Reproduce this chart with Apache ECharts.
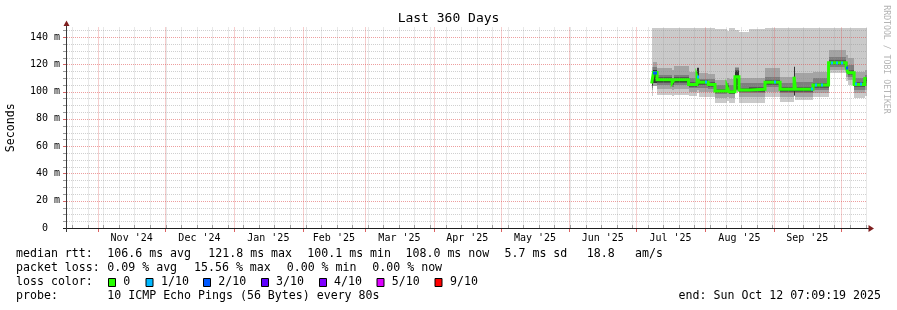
<!DOCTYPE html>
<html><head><meta charset="utf-8">
<script src="https://cdn.jsdelivr.net/npm/echarts@6/dist/echarts.min.js"></script>
<style>html,body{margin:0;padding:0;background:#fff}#c{width:897px;height:310px}</style>
</head><body><div id="c"></div>
<script>
// ---------- axis / tick data ----------
const monthLabels = ["Nov '24","Dec '24","Jan '25","Feb '25","Mar '25","Apr '25","May '25","Jun '25","Jul '25","Aug '25","Sep '25"];
// month starts, in days after the graph start (Nov 1 ... Oct 1)
const monthStartDays = [14.1,44.1,75.1,106.1,134.1,165.1,195.1,226.1,256.1,287.1,318.1,348.1];
const yTickValues = [0,20,40,60,80,100,120,140];
const yTickLabels = ['0  ','20 m','40 m','60 m','80 m','100 m','120 m','140 m'];
const firstWeekDay = 2.35;

// ---------- series data (days after start, values in ms) ----------
const segDays = [263.1,263.9,265.5,272.3,273.2,279.7,283.5,284.4,288.5,291.6,297.0,297.9,300.6,302.4,306.9,314.1,320.9,327.2,327.8,335.7,342.7,350.6,351.5,354.2,359.0,359.8];
const median  = [106,114,108.7,106.5,108.7,105.2,111,106.8,105.2,100.4,103.6,99.9,110.9,101.2,101.7,106.8,101.7,110.9,101.7,104.8,121.2,117.5,113.9,105.3,109.7,109.7];
const smoke1Lo = [97,105,97.5,97,97.5,97,99,96,96,91.4,93,91.5,99.9,91.4,91.4,96.2,92.3,97,93.8,96.2,113.4,108,104.8,95,97,97];
const smoke1Hi = [147,147,147,147,147,147,147,147,147,146,144.5,146.5,145,143.5,146,147,147,147,147,147,147,147,147,147,147,147];
const smoke2Lo = [101,104,102,101,102,100,101,99.9,99.5,95,96,95,100.5,96.2,96.2,99.9,96.2,97,96.2,98.7,115.8,111,108.5,98.7,101,101];
const smoke2Hi = [118,122,117.5,116,118.5,114.6,118,114,113,108.5,110,109,118.2,109.7,110,117,111,118.5,113.4,114.6,130.5,127,124.4,114.6,116,116];
const smoke3Lo = [103,107,104.8,103.5,104.8,102.8,103,102.3,102,98,99,98,101,98.7,98.7,103.6,98.7,97,98.7,101.2,118.2,114,110.9,101.2,104,104];
const smoke3Hi = [112,118,112,110,112,110.2,117,109.5,109,104.8,106.5,105,117,106,106,110.9,106,118,107.3,109.7,125.6,122,119.5,109.7,112,112];
const smoke4Lo = [104,108,106.5,104.5,106.5,103.5,104,104.5,103.3,98.8,101,98.5,101.5,99.5,99.8,104.8,99.8,97.2,99.8,103,119.5,115.5,112.3,103.3,106,106];
const smoke4Hi = [109,116,110.5,108,110.5,107,117,108.3,107,102.2,105,101.5,116,103,103.3,108.3,103.3,118,103.3,106.5,123,119.5,115.5,107,111,111];
const smoke5Lo = [104.5,106,107.3,105.3,107.3,104.2,105,105.5,104,99.4,102.5,99.2,102,100.3,100.8,105.8,100.8,97.5,100.8,104,120.3,116.5,113.2,104.3,107.5,107.5];
const smoke5Hi = [107,116,109.2,107,109.2,105.8,117,107.2,105.8,101,104,100.5,115,101.8,102.3,107.5,102.3,118,102.3,105.5,121.8,118,114.5,105.8,110.3,110.3];

// packet loss on the median line (day ranges and loss level)
const lossStart = [263.9,283.5,287.2,318.3,334.8,336.8,339.2,343.8,346.2,348.4,350.6,354.5,356.8];
const lossEnd   = [265.5,284.4,287.9,318.9,335.4,337.4,339.8,344.4,346.8,349.0,351.5,355.1,357.4];
const lossLevel = [2,1,1,1,1,1,1,1,1,1,2,1,1];

// legend
const lossNames  = ['0','1/10','2/10','3/10','4/10','5/10','9/10'];
const lossColors = ['#26ff00','#00b8ff','#0059ff','#5e00ff','#7e00ff','#dd00ff','#ff0000'];
const smokeColors = ['#cacaca','#a4a4a4','#7e7e7e','#585858','#323232'];

const FONT = "'DejaVu Sans Mono', monospace";
const Y_MAX = 147;
const GRID = {left:67, right:30, top:27.5, bottom:82};

const chart = echarts.init(document.getElementById('c'), null, {renderer:'canvas'});

const monthMid = monthStartDays.slice(0,-1).map((d,i)=>(d+monthStartDays[i+1])/2);
const weekDays = []; for (let d = firstWeekDay; d < 360; d += 7) weekDays.push(d);

// ---------- grid lines & ticks: [kind, position] ----------
const gridItems = [];
for (let v = 5; v < Y_MAX; v += 5) gridItems.push([v % 20 === 0 ? 1 : 0, v]);
weekDays.forEach(d => gridItems.push([2, d]));
monthStartDays.forEach(d => gridItems.push([3, d]));
for (let v = 0; v < Y_MAX; v += 5) gridItems.push([v % 20 === 0 ? 5 : 4, v]);
weekDays.forEach(d => gridItems.push([6, d]));
monthStartDays.forEach(d => gridItems.push([7, d]));

const MINOR = 'rgba(143,143,143,0.42)';
const MAJOR = 'rgba(222,79,79,0.55)';
function renderGrid(params, api) {
  const kind = api.value(0), v = api.value(1);
  const cs = params.coordSys;
  if (kind === 0 || kind === 1) {
    const y = Math.round(api.coord([0, v])[1]) + 0.5;
    return {type:'line', shape:{x1:cs.x, y1:y, x2:cs.x+cs.width, y2:y},
      style:{stroke: kind ? MAJOR : MINOR, lineWidth:1, lineDash:[1,1]}};
  }
  if (kind === 2 || kind === 3) {
    const x = Math.round(api.coord([v, 0])[0]) + 0.5;
    return {type:'line', shape:{x1:x, y1:cs.y, x2:x, y2:cs.y+cs.height},
      style:{stroke: kind === 3 ? MAJOR : MINOR, lineWidth:1, lineDash:[1,1]}};
  }
  if (kind === 4 || kind === 5) {
    const y = Math.round(api.coord([0, v])[1]) + 0.5;
    return {type:'line', shape:{x1:cs.x-4, y1:y, x2:cs.x-1, y2:y},
      style:{stroke: kind === 5 ? 'rgba(200,60,60,0.8)' : 'rgba(110,110,110,0.7)', lineWidth:1}};
  }
  const x = Math.round(api.coord([v, 0])[0]) + 0.5;
  const yb = cs.y + cs.height;
  if (kind === 6) return {type:'line', shape:{x1:x, y1:yb-3, x2:x, y2:yb},
      style:{stroke:'rgba(110,110,110,0.6)', lineWidth:1}};
  return {type:'line', shape:{x1:x, y1:yb+1, x2:x, y2:yb+4},
      style:{stroke:'rgba(210,60,60,0.8)', lineWidth:1}};
}

// ---------- smoke bands: [dayFrom, dayTo, lo, hi, band] ----------
const bands = [[smoke1Lo,smoke1Hi],[smoke2Lo,smoke2Hi],[smoke3Lo,smoke3Hi],[smoke4Lo,smoke4Hi],[smoke5Lo,smoke5Hi]];
const smokeItems = [];
bands.forEach((b,k) => {
  for (let i = 0; i < segDays.length - 1; i++) smokeItems.push([segDays[i], segDays[i+1], b[0][i], b[1][i], k]);
});
function renderSmoke(params, api) {
  const x0 = Math.round(api.coord([api.value(0), 0])[0]);
  const x1 = Math.round(api.coord([api.value(1), 0])[0]);
  const yT = Math.round(api.coord([0, api.value(3)])[1]);
  const yB = Math.round(api.coord([0, api.value(2)])[1]);
  const k = api.value(4);
  return {type:'rect', z2:k, shape:{x:x0, y:yT, width:Math.max(1,x1-x0), height:Math.max(1,yB-yT)},
    style:{fill: smokeColors[k]}};
}

// ---------- loss overlay on median ----------
function medianAt(d) {
  let idx = 0;
  for (let i = 0; i < segDays.length; i++) if (segDays[i] <= d + 1e-9) idx = i;
  return median[idx];
}
const lossItems = lossStart.map((s,i)=>[s, lossEnd[i], medianAt(s), lossLevel[i]]);
function renderLoss(params, api) {
  const x0 = Math.round(api.coord([api.value(0), 0])[0]);
  const x1 = Math.round(api.coord([api.value(1), 0])[0]);
  const y = Math.round(api.coord([0, api.value(2)])[1]);
  return {type:'rect', shape:{x:x0, y:y-1.5, width:Math.max(2,x1-x0), height:3},
    style:{fill: lossColors[api.value(3)]}};
}

const series = [
  {type:'custom', coordinateSystem:'cartesian2d', renderItem: renderSmoke, data: smokeItems, z:1, silent:true, clip:true},
  {type:'custom', coordinateSystem:'cartesian2d', renderItem: renderGrid, data: gridItems, z:3, silent:true, clip:false},
  {type:'line', step:'end', symbol:'none', silent:true, z:5,
    lineStyle:{width:3, color: lossColors[0], cap:'butt', join:'miter'},
    data: segDays.map((d,i)=>[d, median[i]])},
  {type:'custom', coordinateSystem:'cartesian2d', renderItem: renderLoss, data: lossItems, z:6, silent:true}
];

// ---------- text / decoration ----------
const graphics = [];
function txt(x, y, text, extra) {
  graphics.push(Object.assign({type:'text', x, y, z:20, silent:true,
    style:{text, font:'11.6px ' + FONT, fill:'#000', textAlign:'left', textVerticalAlign:'middle'}}, extra || {}));
}
const R1 = 254.3, R2 = 268.3, R3 = 282.3, R4 = 296.3;
txt(16,R1,'median rtt:'); txt(107.3,R1,'106.6 ms avg'); txt(208.3,R1,'121.8 ms max');
txt(307.3,R1,'100.1 ms min'); txt(405.5,R1,'108.0 ms now'); txt(504.5,R1,'5.7 ms sd');
txt(586.7,R1,'18.8'); txt(635,R1,'am/s');
txt(16,R2,'packet loss:'); txt(107.3,R2,'0.09 % avg'); txt(194,R2,'15.56 % max');
txt(286.7,R2,'0.00 % min'); txt(372.3,R2,'0.00 % now');
txt(16,R3,'loss color:');
const boxX = [108.5,146,203.5,261.5,319.5,377,435];
const labX = [123.3,161,218.3,276,334,391.7,450];
lossNames.forEach((n,i)=>{
  graphics.push({type:'rect', z:20, silent:true, shape:{x:boxX[i], y:278.5, width:7, height:8},
    style:{fill: lossColors[i], stroke:'#000', lineWidth:1}});
  txt(labX[i], R3, n);
});
txt(16,R4,'probe:'); txt(107.3,R4,'10 ICMP Echo Pings (56 Bytes) every 80s');
graphics.push({type:'text', x:881, y:R4, z:20, silent:true,
  style:{text:'end: Sun Oct 12 07:09:19 2025', font:'11.6px ' + FONT, fill:'#000', textAlign:'right', textVerticalAlign:'middle'}});
graphics.push({type:'text', x:11, y:127.7, rotation:Math.PI/2, z:20, silent:true,
  style:{text:'Seconds', font:'11.6px ' + FONT, fill:'#000', textAlign:'center', textVerticalAlign:'middle'}});
graphics.push({type:'text', x:886.5, y:59.5, rotation:-Math.PI/2, z:20, silent:true,
  style:{text:'RRDTOOL / TOBI OETIKER', font:'8.2px ' + FONT, fill:'#b4b4b4', textAlign:'center', textVerticalAlign:'middle'}});
graphics.push({type:'line', z:20, silent:true, shape:{x1:63, y1:228.5, x2:869, y2:228.5}, style:{stroke:'#1f1f1f', lineWidth:1}});
graphics.push({type:'line', z:20, silent:true, shape:{x1:66.5, y1:232, x2:66.5, y2:25}, style:{stroke:'#3a3a3a', lineWidth:1}});
graphics.push({type:'polygon', z:21, silent:true, shape:{points:[[868.5,225],[874,228.5],[868.5,232]]}, style:{fill:'#7f1f1f'}});
graphics.push({type:'polygon', z:21, silent:true, shape:{points:[[63.5,26],[66.5,20.5],[69.5,26]]}, style:{fill:'#7f1f1f'}});

chart.setOption({
  animation:false,
  backgroundColor:'#fff',
  title:{text:'Last 360 Days', left:'center', top:12, padding:0,
    textStyle:{fontFamily:FONT, fontSize:13, fontWeight:'normal', color:'#000'}},
  grid: GRID,
  xAxis:{type:'value', min:0, max:360, axisLine:{show:false}, axisTick:{show:false}, splitLine:{show:false},
    axisLabel:{customValues: monthMid, margin:5, fontFamily:FONT, fontSize:10, color:'#000',
      formatter: v => monthLabels[monthMid.findIndex(m=>Math.abs(m-v)<1e-6)] || ''}},
  yAxis:{type:'value', min:0, max:Y_MAX, axisLine:{show:false}, axisTick:{show:false}, splitLine:{show:false},
    axisLabel:{customValues: yTickValues, margin:7, fontFamily:FONT, fontSize:10, color:'#000',
      formatter: v => yTickLabels[yTickValues.indexOf(v)] || ''}},
  series,
  graphic:{elements: graphics}
});
</script></body></html>
